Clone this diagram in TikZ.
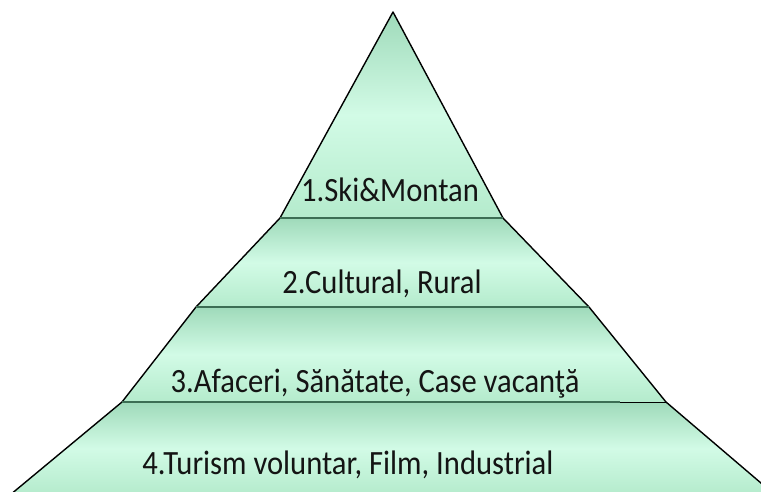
\documentclass[tikz,border=0pt]{standalone}
\usepackage{fontspec}
\setmainfont{Carlito}
\usepackage{graphicx}
\definecolor{lyrtop}{HTML}{9FDABA}
\definecolor{lyrmid}{HTML}{D2FBE6}
\definecolor{lyrbot}{HTML}{B4EBCC}
\definecolor{sepline}{HTML}{3C6E54}
\definecolor{txt}{HTML}{141414}
\tikzset{
  layer/.style={top color=lyrtop, bottom color=lyrbot, middle color=lyrmid, draw=none},
  edge/.style={draw=black, line width=1.4pt},
  sep/.style={draw=sepline, line width=2pt},
  lbl/.style={text=txt, font=\fontsize{34}{38}\selectfont, inner sep=0pt},
}
\begin{document}
\begin{tikzpicture}[x=1pt,y=-1pt]
\useasboundingbox (0,0) rectangle (761,491);
\clip (0,0) rectangle (761,491);
% layers
\fill[layer] (393,12) -- (503,218) -- (280,218) -- cycle;
\fill[layer] (280,218) -- (503,218) -- (589,307) -- (196,307) -- cycle;
\fill[layer] (196,307) -- (589,307) -- (666,402) -- (122,402) -- cycle;
\fill[layer] (122,402) -- (666,402) -- (775,495) -- (10,495) -- cycle;
% outline
\draw[edge, line join=round] (10,495) -- (122,402) -- (196,307) -- (280,218) -- (393,12) -- (503,218) -- (589,307) -- (666,402) -- (775,495);
% separators
\draw[sep] (280,218) -- (503,218);
\draw[sep] (196,307) -- (589,307);
\draw[sep] (122,402) -- (620,402);
\draw[draw=black, line width=1pt] (620,402) -- (666,402);
% labels
\node[lbl] (l1) at (390,190) {\scalebox{0.9}[1]{1.Ski\&Montan}};
\node[lbl] (l2) at (382,284) {\scalebox{0.9}[1]{2.Cultural, Rural}};
\node[lbl] (l3) at (375,384) {\scalebox{0.9}[1]{3.Afaceri, Sănătate, Case vacanţă}};
\node[lbl] (l4) at (348,465) {\scalebox{0.9}[1]{4.Turism voluntar, Film, Industrial}};
\end{tikzpicture}
\end{document}
